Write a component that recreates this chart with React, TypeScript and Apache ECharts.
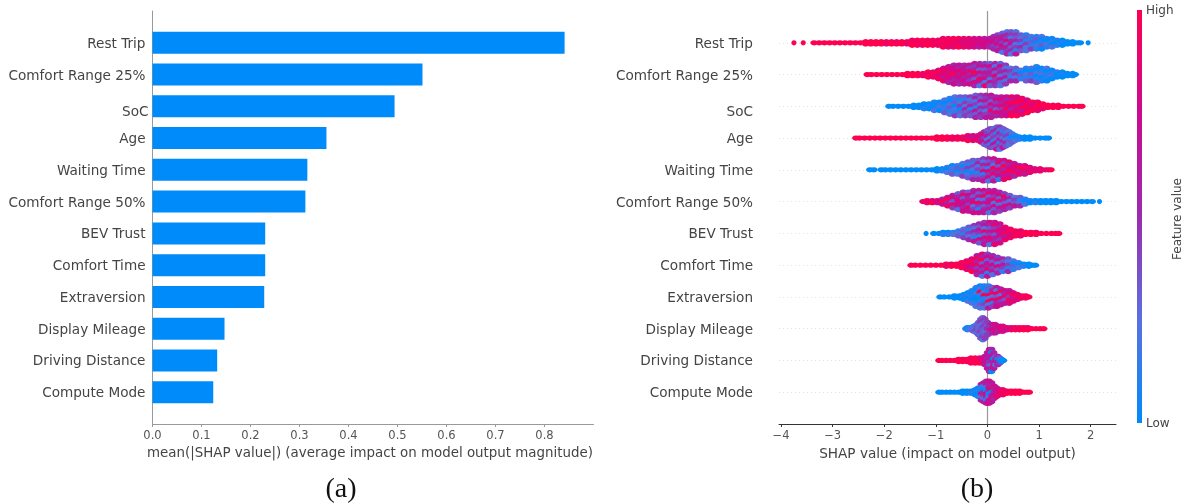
import React, { useEffect, useRef } from "react";
import * as echarts from "echarts";

const features = ["Rest Trip", "Comfort Range 25%", "SoC", "Age", "Waiting Time", "Comfort Range 50%", "BEV Trust", "Comfort Time", "Extraversion", "Display Mileage", "Driving Distance", "Compute Mode"];
const meanShap = [0.841, 0.551, 0.494, 0.355, 0.316, 0.312, 0.23, 0.23, 0.228, 0.147, 0.132, 0.124];
const barTicks = [0, 0.1, 0.2, 0.3, 0.4, 0.5, 0.6, 0.7, 0.8];
const swarmTicks = [-4, -3, -2, -1, 0, 1, 2];

// Each column: SHAP value, then one digit per stacked dot (its feature value, 0 = low, 9 = high).
type Col = [number, string];
const restTrip: Col[] = [[-3.75,"9"],[-3.57,"9"],[-3.36,"9"],[-3.26,"9"],[-3.16,"9"],[-3.06,"9"],[-2.96,"9"],[-2.86,"9"],[-2.76,"9"],[-2.66,"9"],[-2.56,"9"],[-2.46,"9"],[-2.36,"99"],[-2.26,"99"],[-2.16,"99"],[-2.06,"99"],[-1.96,"98"],[-1.86,"99"],[-1.76,"89"],[-1.66,"99"],[-1.56,"98"],[-1.46,"899"],[-1.36,"989"],[-1.26,"998"],[-1.16,"899"],[-1.06,"989"],[-0.96,"898"],[-0.86,"8989"],[-0.76,"9898"],[-0.66,"8988"],[-0.56,"9889"],[-0.46,"8788"],[-0.36,"8878"],[-0.26,"7787"],[-0.16,"7776"],[-0.06,"6777"],[0.04,"6765"],[0.12,"56745"],[0.2,"465746"],[0.29,"3564752"],[0.38,"25473645"],[0.46,"34256352"],[0.55,"24352416"],[0.65,"324153"],[0.75,"131422"],[0.85,"21314"],[0.95,"13021"],[1.05,"20130"],[1.15,"1021"],[1.25,"0102"],[1.35,"101"],[1.45,"010"],[1.55,"00"],[1.65,"00"],[1.75,"0"],[1.8,"0"],[1.95,"0"]];
const comfort25: Col[] = [[-2.33,"9"],[-2.25,"9"],[-2.15,"9"],[-2.05,"9"],[-1.95,"9"],[-1.85,"9"],[-1.75,"9"],[-1.65,"9"],[-1.55,"99"],[-1.45,"99"],[-1.35,"99"],[-1.25,"98"],[-1.15,"989"],[-1.05,"898"],[-0.95,"8979"],[-0.85,"78868"],[-0.75,"687875"],[-0.65,"5779657"],[-0.55,"6586765"],[-0.45,"5668576"],[-0.35,"6485647"],[-0.25,"64596375"],[-0.15,"56374862"],[-0.05,"46365728"],[0.05,"37465263"],[0.15,"52638454"],[0.25,"37452632"],[0.35,"4253624"],[0.45,"24315"],[0.55,"31425"],[0.65,"2031"],[0.75,"10213"],[0.85,"20314"],[0.95,"102013"],[1.05,"01201"],[1.15,"20110"],[1.25,"0120"],[1.35,"100"],[1.45,"010"],[1.55,"00"],[1.65,"00"],[1.7,"0"]];
const soc: Col[] = [[-1.91,"0"],[-1.83,"0"],[-1.73,"0"],[-1.63,"0"],[-1.53,"0"],[-1.43,"00"],[-1.33,"00"],[-1.23,"001"],[-1.13,"010"],[-1.03,"1002"],[-0.93,"0120"],[-0.83,"20113"],[-0.73,"102312"],[-0.63,"2130214"],[-0.53,"3124032"],[-0.43,"3142534"],[-0.33,"4235143"],[-0.23,"35241635"],[-0.13,"43625354"],[-0.03,"54635246"],[0.07,"65374856"],[0.17,"5746385"],[0.27,"6758476"],[0.37,"7586967"],[0.47,"8697589"],[0.57,"7896879"],[0.67,"897968"],[0.77,"78989"],[0.87,"9789"],[0.97,"8998"],[1.07,"998"],[1.17,"99"],[1.27,"99"],[1.37,"99"],[1.47,"9"],[1.57,"9"],[1.67,"9"],[1.77,"9"],[1.83,"9"]];
const age: Col[] = [[-2.55,"9"],[-2.48,"9"],[-2.38,"9"],[-2.28,"9"],[-2.18,"9"],[-2.08,"9"],[-1.98,"9"],[-1.88,"9"],[-1.78,"9"],[-1.68,"9"],[-1.58,"9"],[-1.48,"9"],[-1.38,"9"],[-1.28,"9"],[-1.18,"9"],[-1.08,"9"],[-0.98,"99"],[-0.88,"99"],[-0.78,"99"],[-0.68,"98"],[-0.58,"89"],[-0.48,"98"],[-0.38,"879"],[-0.28,"768"],[-0.18,"878"],[-0.12,"6857"],[-0.06,"57463"],[0.0,"346253"],[0.06,"4352614"],[0.12,"2534163"],[0.18,"35142637"],[0.24,"42536142"],[0.3,"3142536"],[0.36,"314253"],[0.42,"24132"],[0.48,"2013"],[0.54,"102"],[0.62,"01"],[0.72,"00"],[0.82,"00"],[0.92,"0"],[1.02,"0"],[1.12,"0"],[1.18,"0"]];
const waitingTime: Col[] = [[-2.28,"0"],[-2.2,"0"],[-2.06,"0"],[-1.98,"0"],[-1.88,"0"],[-1.78,"0"],[-1.68,"0"],[-1.58,"0"],[-1.48,"0"],[-1.38,"0"],[-1.28,"0"],[-1.18,"0"],[-1.08,"0"],[-0.98,"00"],[-0.88,"01"],[-0.78,"102"],[-0.68,"0213"],[-0.58,"1302"],[-0.48,"20314"],[-0.38,"314023"],[-0.28,"3142035"],[-0.18,"3524135"],[-0.08,"42537146"],[0.02,"53618472"],[0.12,"74295836"],[0.22,"6838571"],[0.32,"7495868"],[0.42,"857968"],[0.52,"68795"],[0.62,"7968"],[0.72,"7986"],[0.82,"878"],[0.92,"78"],[1.02,"88"],[1.12,"8"],[1.18,"8"],[1.23,"9"]];
const comfort50: Col[] = [[-1.25,"8"],[-1.17,"98"],[-1.07,"79"],[-0.97,"87"],[-0.87,"597"],[-0.77,"7958"],[-0.67,"67384"],[-0.57,"357762"],[-0.47,"4836757"],[-0.37,"3756486"],[-0.27,"56368247"],[-0.17,"63628417"],[-0.07,"74826356"],[0.03,"58367462"],[0.13,"67482735"],[0.23,"5738264"],[0.33,"486375"],[0.43,"35274"],[0.53,"2436"],[0.63,"3125"],[0.73,"102"],[0.83,"10"],[0.93,"01"],[1.03,"00"],[1.13,"00"],[1.23,"00"],[1.33,"00"],[1.43,"0"],[1.53,"0"],[1.63,"0"],[1.73,"0"],[1.83,"0"],[1.93,"0"],[2.03,"0"],[2.17,"0"]];
const bevTrust: Col[] = [[-1.19,"0"],[-1.04,"0"],[-0.94,"0"],[-0.86,"01"],[-0.76,"01"],[-0.66,"12"],[-0.56,"123"],[-0.46,"2314"],[-0.36,"31425"],[-0.26,"425316"],[-0.16,"5364173"],[-0.06,"46283756"],[0.04,"75364862"],[0.14,"68473658"],[0.24,"7586747"],[0.34,"87968"],[0.44,"8978"],[0.54,"989"],[0.64,"898"],[0.74,"99"],[0.84,"99"],[0.94,"89"],[1.04,"9"],[1.14,"9"],[1.24,"9"],[1.32,"9"],[1.38,"9"]];
const comfortTime: Col[] = [[-1.48,"9"],[-1.4,"9"],[-1.3,"9"],[-1.2,"9"],[-1.1,"9"],[-1.0,"9"],[-0.9,"9"],[-0.8,"98"],[-0.7,"89"],[-0.6,"99"],[-0.5,"989"],[-0.4,"8978"],[-0.3,"79869"],[-0.2,"6958475"],[-0.1,"85937462"],[0.0,"47365816"],[0.1,"5637462"],[0.2,"462735"],[0.3,"53641"],[0.4,"32415"],[0.5,"2031"],[0.6,"102"],[0.7,"01"],[0.8,"00"],[0.88,"0"],[0.93,"0"]];
const extraversion: Col[] = [[-0.92,"0"],[-0.84,"0"],[-0.74,"0"],[-0.64,"00"],[-0.54,"00"],[-0.46,"010"],[-0.38,"0102"],[-0.3,"10102"],[-0.22,"1020012"],[-0.14,"02910132"],[-0.06,"10291042"],[0.02,"13082926"],[0.1,"3592814"],[0.18,"6283857"],[0.26,"592846"],[0.34,"75836"],[0.42,"68497"],[0.5,"7968"],[0.58,"897"],[0.66,"89"],[0.74,"98"],[0.8,"9"]];
const displayMileage: Col[] = [[-0.42,"1"],[-0.39,"01"],[-0.33,"12"],[-0.27,"123"],[-0.21,"2342"],[-0.17,"33233"],[-0.13,"3423423"],[-0.09,"34243342"],[-0.05,"4343234"],[0.0,"43534"],[0.05,"5464"],[0.1,"6575"],[0.15,"7686"],[0.2,"675"],[0.25,"786"],[0.3,"787"],[0.38,"87"],[0.46,"78"],[0.54,"89"],[0.62,"98"],[0.7,"99"],[0.78,"89"],[0.86,"9"],[0.94,"9"],[1.02,"9"],[1.09,"9"]];
const drivingDistance: Col[] = [[-0.94,"9"],[-0.88,"9"],[-0.8,"9"],[-0.72,"9"],[-0.64,"9"],[-0.56,"99"],[-0.48,"99"],[-0.4,"99"],[-0.32,"989"],[-0.24,"999"],[-0.16,"899"],[-0.1,"789"],[-0.05,"6766"],[0.0,"565656"],[0.04,"67564365"],[0.08,"50655260"],[0.12,"560566"],[0.16,"3562"],[0.2,"5065"],[0.24,"304"],[0.27,"10"],[0.31,"0"]];
const computeMode: Col[] = [[-0.94,"0"],[-0.88,"0"],[-0.8,"0"],[-0.72,"0"],[-0.64,"0"],[-0.56,"0"],[-0.48,"00"],[-0.4,"00"],[-0.32,"01"],[-0.24,"010"],[-0.18,"0101"],[-0.12,"510625"],[-0.07,"6205526"],[-0.02,"56207516"],[0.03,"75650267"],[0.08,"6580576"],[0.13,"75565"],[0.18,"6768"],[0.24,"788"],[0.3,"898"],[0.38,"89"],[0.46,"99"],[0.54,"99"],[0.62,"99"],[0.7,"9"],[0.76,"9"],[0.81,"9"]];
const swarmRows = [restTrip, comfort25, soc, age, waitingTime, comfort50, bevTrust, comfortTime, extraversion, displayMileage, drivingDistance, computeMode];

const cmap = ["#008bfb", "#5a70e0", "#9b2bb0", "#cc0a8f", "#ff0051"];
const FONT = "DejaVu Sans";
const TEXT = "#444444";
const LABEL_SIZE = 13.6;

export default function App() {
  const ref = useRef<HTMLDivElement>(null);
  useEffect(() => {
    document.body.style.margin = "0";
    const chart = echarts.init(ref.current!, null, { renderer: "svg" });
    const dots: number[][] = [];
    swarmRows.forEach((cols, row) => {
      cols.forEach(([x, digits], c) => {
        const n = digits.length;
        const spacing = Math.min(0.05 + 0.01 * n, 0.1);
        const prev = cols[c - 1];
        const next = cols[c + 1];
        const isolated = (!prev || x - prev[0] > 0.12) && (!next || next[0] - x > 0.12) ? 1 : 0;
        for (let k = 0; k < n; k++) {
          dots.push([x, row + (k - (n - 1) / 2) * spacing, Number(digits[k]), isolated]);
        }
      });
    });
    const catData = [" ", ...features, "  "];
    const rich = {
      n: { fontFamily: FONT, fontSize: LABEL_SIZE, color: TEXT, padding: [0, 3, 0, 0] },
      s: { fontFamily: FONT, fontSize: LABEL_SIZE, color: TEXT, padding: [10, 0, 0, 0] },
      r: { fontFamily: FONT, fontSize: LABEL_SIZE, color: TEXT },
      rs: { fontFamily: FONT, fontSize: LABEL_SIZE, color: TEXT, padding: [10, 0, 0, 0] },
    };
    chart.setOption({
      animation: false,
      backgroundColor: "#ffffff",
      textStyle: { fontFamily: FONT },
      grid: [
        { left: 152.5, top: 11, width: 441, height: 413 },
        { left: 779, top: 11, width: 337, height: 413 },
      ],
      xAxis: [
        {
          gridIndex: 0, type: "value", min: 0, max: 0.9,
          name: "mean(|SHAP value|) (average impact on model output magnitude)",
          nameLocation: "middle", nameGap: 21,
          nameTextStyle: { fontFamily: FONT, fontSize: 13.4, color: TEXT, padding: [0, 6, 0, 0] },
          axisLine: { show: true, onZero: false, lineStyle: { color: "#999999", width: 1 } },
          axisTick: { show: true, length: 3, lineStyle: { color: "#999999" }, customValues: barTicks },
          axisLabel: { customValues: barTicks, fontFamily: FONT, fontSize: 11.5, color: "#555555", margin: 5, formatter: (v: number) => v.toFixed(1) },
          splitLine: { show: false },
        },
        {
          gridIndex: 1, type: "value", min: -4.04, max: 2.49,
          name: "SHAP value (impact on model output)",
          nameLocation: "middle", nameGap: 21,
          nameTextStyle: { fontFamily: FONT, fontSize: 13.6, color: TEXT },
          axisLine: { show: true, onZero: false, lineStyle: { color: "#333333", width: 1 } },
          axisTick: { show: true, length: 3, lineStyle: { color: "#333333" }, customValues: swarmTicks },
          axisLabel: { customValues: swarmTicks, fontFamily: FONT, fontSize: 11.5, color: "#555555", margin: 5, formatter: (v: number) => (v < 0 ? "\u2212" + Math.abs(v) : String(v)) },
          splitLine: { show: false },
        },
      ],
      yAxis: [
        {
          gridIndex: 0, type: "category", inverse: true, boundaryGap: false, data: catData,
          axisLine: { lineStyle: { color: "#999999", width: 1 } },
          axisTick: { show: false },
          axisLabel: {
            interval: 0, margin: 4, rich,
            formatter: (v: string) => (v.trim() === "" ? "" : v === "SoC" ? `{s|${v}}` : `{n|${v}}`),
          },
        },
        {
          gridIndex: 1, type: "value", inverse: true, min: -1, max: 12, interval: 1,
          axisLine: { show: false, onZero: false },
          axisTick: { show: false },
          axisLabel: {
            margin: 26, rich,
            formatter: (v: number) => {
              const name = features[v];
              if (!name) return "";
              return name === "SoC" ? `{rs|${name}}` : `{r|${name}}`;
            },
          },
          splitLine: { show: true, showMinLine: false, showMaxLine: false, lineStyle: { color: "#e2e2e2", width: 1, type: [1, 3] } },
        },
      ],
      visualMap: {
        show: false, type: "continuous", seriesIndex: 2, dimension: 2, min: 0, max: 9,
        inRange: { color: cmap },
      },
      series: [
        {
          type: "bar", xAxisIndex: 0, yAxisIndex: 0,
          data: [null, ...meanShap, null],
          barWidth: 22,
          itemStyle: { color: "#008bfb" },
        },
        {
          type: "line", xAxisIndex: 1, yAxisIndex: 1, z: 1, silent: true,
          data: [[0, -1], [0, 12]],
          showSymbol: false,
          lineStyle: { color: "#999999", width: 1.2 },
        },
        {
          type: "scatter", xAxisIndex: 1, yAxisIndex: 1, z: 3, silent: true,
          symbolSize: (val: number[]) => (val[3] ? [5.2, 5.2] : [7.6, 5.2]),
          data: dots,
          encode: { x: 0, y: 1 },
          itemStyle: { opacity: 1 },
        },
      ],
      graphic: [
        {
          type: "rect", shape: { x: 1137, y: 10, width: 5, height: 413 }, silent: true,
          style: {
            fill: new echarts.graphic.LinearGradient(0, 1, 0, 0, cmap.map((color, i) => ({ offset: i / (cmap.length - 1), color }))),
          },
        },
        { type: "text", x: 1146, y: 10, style: { text: "High", font: `12px '${FONT}'`, fill: TEXT, textAlign: "left", textVerticalAlign: "middle" } },
        { type: "text", x: 1146, y: 423, style: { text: "Low", font: `12px '${FONT}'`, fill: TEXT, textAlign: "left", textVerticalAlign: "middle" } },
        { type: "text", x: 1177, y: 219, rotation: Math.PI / 2, style: { text: "Feature value", font: `12px '${FONT}'`, fill: TEXT, textAlign: "center", textVerticalAlign: "middle" } },
        { type: "text", x: 341, y: 487, style: { text: "(a)", font: "28px 'Liberation Serif'", fill: "#111111", textAlign: "center", textVerticalAlign: "middle" } },
        { type: "text", x: 977, y: 487, style: { text: "(b)", font: "28px 'Liberation Serif'", fill: "#111111", textAlign: "center", textVerticalAlign: "middle" } },
      ],
    });
    return () => chart.dispose();
  }, []);
  return <div ref={ref} style={{ width: 1187, height: 504, filter: "blur(0.35px)" }} />;
}
